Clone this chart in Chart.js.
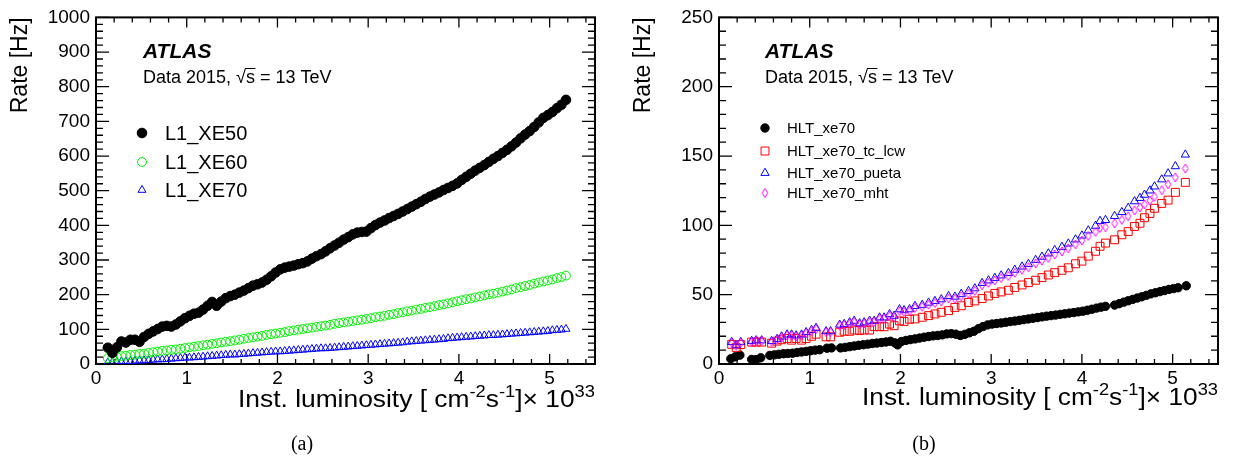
<!DOCTYPE html>
<html><head><meta charset="utf-8">
<script src="https://cdn.jsdelivr.net/npm/chart.js@4.4.1/dist/chart.umd.min.js"></script>
<style>
html,body{margin:0;padding:0;background:#fff;}
#wrap{position:relative;width:1235px;height:460px;overflow:hidden;background:#fff;}
canvas{position:absolute;top:0;}
</style></head><body>
<div id="wrap">
<canvas id="ca" width="617" height="460" style="left:0px"></canvas>
<canvas id="cb" width="618" height="460" style="left:617px"></canvas>
</div>
<script>
// ---------------- DATA (panel a) ----------------
const lumiA = [
0.13,0.18,0.23,0.28,0.33,0.38,0.43,0.48,0.53,0.58,
0.63,0.68,0.73,0.78,0.83,0.88,0.93,0.98,1.03,1.08,
1.13,1.18,1.23,1.28,1.33,1.38,1.43,1.48,1.53,1.58,
1.63,1.68,1.73,1.78,1.83,1.88,1.93,1.98,2.03,2.08,
2.13,2.18,2.23,2.28,2.33,2.38,2.43,2.48,2.53,2.58,
2.63,2.68,2.73,2.78,2.83,2.88,2.93,2.98,3.03,3.08,
3.13,3.18,3.23,3.28,3.33,3.38,3.43,3.48,3.53,3.58,
3.63,3.68,3.73,3.78,3.83,3.88,3.93,3.98,4.03,4.08,
4.13,4.18,4.23,4.28,4.33,4.38,4.43,4.48,4.53,4.58,
4.63,4.68,4.73,4.78,4.83,4.88,4.93,4.98,5.03,5.08,
5.13,5.18];
const rateL1XE50 = [
47,32,48,65,62,70,70,64,78,87,
94,101,108,110,108,114,123,132,139,145,
148,157,168,179,168,180,190,196,200,206,
212,219,226,230,235,243,253,264,273,278,
281,284,288,291,296,304,311,317,325,334,
342,350,359,366,374,379,381,382,392,401,
408,414,421,427,433,440,447,454,461,468,
476,483,489,495,502,508,514,521,531,540,
549,558,566,574,583,592,600,609,618,628,
639,651,662,672,684,697,710,718,727,738,
748,762];
const rateL1XE60 = [
17,19,21,23,24,26,27,29,30,32,
34,36,38,39,41,42,44,46,48,50,
52,54,56,58,60,62,64,66,68,70,
73,75,77,79,81,84,86,88,90,92,
95,97,99,101,103,105,107,109,111,113,
116,118,120,122,124,126,128,130,132,135,
137,139,142,144,147,149,152,154,157,159,
162,164,167,170,172,175,178,181,184,187,
189,192,195,198,201,203,206,209,212,215,
219,222,225,228,232,235,238,241,244,248,
251,255];
const rateL1XE70 = [
4,5,6,7,7,8,9,10,10,11,
12,13,13,14,15,16,17,18,18,19,
20,21,22,23,24,25,26,27,27,28,
29,30,31,32,33,34,35,36,36,37,
38,39,40,41,42,43,44,45,45,46,
47,48,49,50,51,52,53,54,55,56,
57,58,59,60,61,62,64,65,66,67,
68,69,70,71,72,74,75,76,77,78,
79,80,81,82,83,83,84,85,86,87,
88,89,90,91,92,93,94,95,97,98,
99,101];

// ---------------- DATA (panel b) ----------------
const lumiHLT = [
0.13,0.18,0.23,0.36,0.41,0.46,0.56,0.61,0.66,0.71,
0.76,0.81,0.86,0.91,0.96,1.01,1.06,1.11,1.19,1.24,
1.34,1.39,1.44,1.49,1.54,1.59,1.64,1.69,1.74,1.79,
1.84,1.89,1.94,1.97,2.01,2.06,2.11,2.16,2.21,2.26,
2.31,2.36,2.41,2.46,2.51,2.56,2.61,2.66,2.71,2.76,
2.81,2.86,2.91,2.96,3.01,3.06,3.11,3.16,3.21,3.26,
3.31,3.36,3.41,3.46,3.51,3.56,3.61,3.66,3.71,3.76,
3.81,3.86,3.91,3.96,4.01,4.06,4.11,4.16,4.21,4.26,
4.36,4.41,4.46,4.51,4.56,4.61,4.66,4.71,4.76,4.81,
4.86,4.91,4.96,5.01,5.06,5.15];
const rateHLTxe70 = [
3.8,5.2,6.4,3.3,3.2,4.5,6.2,6.6,7.0,7.4,
7.6,7.8,8.3,8.7,9.1,9.6,10.0,10.3,11.4,11.6,
11.6,12.0,12.5,13.0,13.5,13.9,14.3,14.8,15.1,15.5,
15.9,16.4,15.2,13.8,16.2,17.0,17.6,18.1,18.7,19.3,
19.8,20.3,20.6,21.0,21.7,21.9,21.5,20.6,21.4,22.5,
23.6,25.5,27.0,28.2,28.8,29.2,29.6,30.1,30.6,31.0,
31.5,32.0,32.5,33.0,33.5,34.0,34.5,34.9,35.3,35.8,
36.2,36.7,37.1,37.6,38.1,38.8,39.5,40.3,41.0,41.6,
42.5,43.5,44.6,45.6,46.6,47.6,48.5,49.5,50.6,51.4,
52.2,53.0,53.8,54.4,55.0,56.4];
const lumiVar = [
0.14,0.19,0.24,0.36,0.41,0.47,0.58,0.64,0.69,0.75,
0.80,0.85,0.91,0.96,1.02,1.07,1.18,1.23,1.33,1.38,
1.44,1.49,1.55,1.60,1.66,1.71,1.77,1.82,1.88,1.93,
1.99,2.04,2.10,2.16,2.24,2.31,2.38,2.45,2.53,2.60,
2.67,2.75,2.82,2.90,2.97,3.04,3.11,3.19,3.26,3.34,
3.41,3.49,3.56,3.63,3.70,3.78,3.85,3.93,4.00,4.07,
4.15,4.20,4.26,4.36,4.44,4.51,4.58,4.64,4.69,4.75,
4.80,4.88,4.95,5.03,5.14];
const rateTcLcw = [
14.2,11.8,14.0,15.8,15.8,15.8,15.0,16.5,17.5,18.4,
17.2,18.4,17.2,18.4,20.0,21.5,19.6,19.6,22.9,23.6,
23.6,24.5,24.1,24.5,24.5,26.9,26.9,26.9,28.8,27.6,
31.1,30.7,32.3,32.5,33.7,34.9,36.1,37.3,38.5,40.8,
42.0,44.4,45.5,47.2,49.1,50.9,52.0,53.2,55.2,57.0,
58.7,60.4,62.3,64.2,65.9,67.6,69.4,72.3,74.2,77.8,
81.3,84.9,87.2,89.6,93.2,95.5,99.2,101.5,105.5,108.6,
112.3,115.8,118.2,123.8,131.0];
const ratePueta = [
15.8,13.5,15.8,16.5,17.0,17.0,16.5,18.0,19.8,21.2,
21.2,20.5,21.2,22.9,24.5,26.0,23.6,23.6,28.3,28.8,
30.0,31.1,29.3,30.0,31.1,31.1,33.5,33.5,35.9,34.7,
39.4,38.7,39.4,41.8,42.6,44.2,45.4,46.6,48.9,48.5,
50.5,52.5,54.5,58.4,60.2,62.0,63.8,65.5,67.9,70.2,
72.1,75.0,77.3,79.7,82.1,84.4,86.8,89.8,92.6,96.3,
99.6,103.1,103.8,106.7,109.5,112.6,117.3,119.7,122.0,125.1,
128.0,133.1,137.4,142.6,151.0];
const rateMht = [
15.2,13.0,15.4,16.0,16.6,16.6,16.0,17.4,19.2,20.6,
20.5,19.8,20.6,22.2,23.8,25.2,23.0,23.0,27.6,28.0,
29.2,30.3,28.6,29.2,30.2,30.3,32.6,32.6,34.9,33.7,
38.2,37.6,38.3,40.5,41.3,42.8,44.0,45.1,47.3,47.0,
48.9,50.8,52.8,56.8,58.6,60.3,62.0,63.5,65.8,68.0,
69.8,72.5,74.6,76.6,79.0,81.2,83.4,86.3,89.0,92.4,
95.3,98.2,98.6,101.4,104.0,106.6,110.8,113.0,115.1,117.8,
120.6,125.4,129.6,134.6,141.0];

// ---------------- TEXT ----------------
const seriesNamesA = ['L1_XE50','L1_XE60','L1_XE70'];
const seriesNamesB = ['HLT_xe70','HLT_xe70_tc_lcw','HLT_xe70_pueta','HLT_xe70_mht'];
const yTitle = 'Rate [Hz]';
const xTitleParts = [
  {t:'Inst. luminosity [ cm', sup:false},
  {t:'-2', sup:true},
  {t:'s', sup:false},
  {t:'-1', sup:true},
  {t:']\u00d7 10', sup:false},
  {t:'33', sup:true}
];
const atlasLabel = 'ATLAS';
const dataLabelParts = ['Data 2015, ', '\u221a', 's', ' = 13 TeV'];

// ---------------- DRAWING ----------------
const FONT = '"Liberation Sans", Arial, Helvetica, sans-serif';
Chart.defaults.font.family = FONT;
Chart.defaults.color = '#000';

function pts(xs, ys){ return xs.map((x,i)=>({x:x, y:ys[i]})); }

const diamondImg = (function(){
  const c = document.createElement('canvas'); c.width = 8; c.height = 11;
  const g = c.getContext('2d'); g.strokeStyle = '#ff00ff'; g.lineWidth = 1;
  g.beginPath(); g.moveTo(4,1); g.lineTo(6.8,5.5); g.lineTo(4,10); g.lineTo(1.2,5.5); g.closePath(); g.stroke();
  return c;
})();

function drawMarker(ctx, ds, x, y){
  ctx.save();
  ctx.fillStyle = ds.pointBackgroundColor;
  ctx.strokeStyle = ds.pointBorderColor;
  ctx.lineWidth = ds.pointBorderWidth;
  Chart.helpers.drawPoint(ctx, {pointStyle: ds.pointStyle, radius: ds.pointRadius, borderWidth: ds.pointBorderWidth, rotation: 0}, x, y);
  ctx.restore();
}

function rootPlugin(P){
  return {
    id: 'root' + P.key,
    beforeDatasetsDraw(chart){
      const ctx = chart.ctx, a = chart.chartArea, xs = chart.scales.x, ys = chart.scales.y;
      ctx.save();
      ctx.strokeStyle = '#000'; ctx.lineWidth = 1.3;
      ctx.beginPath();
      const nY = Math.round(P.yMax / P.yMinor);
      for (let k = 0; k <= nY; k++){
        const py = ys.getPixelForValue(k * P.yMinor);
        const len = (k % 5 === 0) ? 13 : 7;
        ctx.moveTo(a.left, py); ctx.lineTo(a.left + len, py);
        ctx.moveTo(a.right, py); ctx.lineTo(a.right - len, py);
      }
      for (let k = 0; k <= 27; k++){
        const px = xs.getPixelForValue(k * 0.2);
        const len = (k % 5 === 0) ? 10 : 5;
        ctx.moveTo(px, a.bottom); ctx.lineTo(px, a.bottom - len);
        ctx.moveTo(px, a.top); ctx.lineTo(px, a.top + len);
      }
      ctx.stroke();
      ctx.lineWidth = 2;
      ctx.strokeRect(a.left, a.top, a.right - a.left, a.bottom - a.top);
      ctx.restore();
    },
    afterDraw(chart){
      const ctx = chart.ctx, a = chart.chartArea;
      ctx.save();
      ctx.fillStyle = '#000'; ctx.strokeStyle = '#000';
      ctx.textAlign = 'left'; ctx.textBaseline = 'alphabetic';
      // ATLAS label
      ctx.font = 'italic bold 21px ' + FONT;
      ctx.fillText(atlasLabel, P.atlasX, P.atlasY);
      // Data 2015, sqrt(s) = 13 TeV
      ctx.font = '18px ' + FONT;
      let xx = P.atlasX; const by = P.dataY;
      ctx.fillText(dataLabelParts[0], xx, by); xx += ctx.measureText(dataLabelParts[0]).width;
      ctx.fillText(dataLabelParts[1], xx, by); const wr = ctx.measureText(dataLabelParts[1]).width;
      const ws = ctx.measureText(dataLabelParts[2]).width;
      ctx.fillText(dataLabelParts[2], xx + wr, by);
      ctx.lineWidth = 1;
      ctx.beginPath(); ctx.moveTo(xx + wr - 1, by - 14.5); ctx.lineTo(xx + wr + ws + 0.5, by - 14.5); ctx.stroke();
      xx += wr + ws;
      ctx.fillText(dataLabelParts[3], xx, by);
      // legend
      ctx.font = P.legendFont + 'px ' + FONT;
      ctx.textBaseline = 'middle';
      chart.data.datasets.forEach((ds, i) => {
        drawMarker(ctx, ds, P.legendMarkerX, P.legendRows[i]);
        ctx.fillStyle = '#000';
        ctx.fillText(ds.label, P.legendTextX, P.legendRows[i] + 1);
      });
      // y title
      ctx.save();
      ctx.textBaseline = 'alphabetic'; ctx.textAlign = 'right';
      ctx.font = '23px ' + FONT;
      ctx.translate(P.yTitleX, a.top);
      ctx.rotate(-Math.PI/2);
      ctx.fillText(yTitle, 0, 0);
      ctx.restore();
      // x title with superscripts, fitted to span
      ctx.save();
      ctx.textBaseline = 'alphabetic'; ctx.textAlign = 'left';
      const big = '23px ' + FONT, small = '16px ' + FONT;
      let W = 0;
      xTitleParts.forEach(p => { ctx.font = p.sup ? small : big; W += ctx.measureText(p.t).width; });
      const f = (a.right - P.xTitleStart) / W;
      ctx.translate(P.xTitleStart, P.xTitleY);
      ctx.scale(f, 1);
      let cx = 0;
      xTitleParts.forEach(p => {
        ctx.font = p.sup ? small : big;
        ctx.fillText(p.t, cx, p.sup ? -10 : 0);
        cx += ctx.measureText(p.t).width;
      });
      ctx.restore();
      // caption
      ctx.font = '20px "Liberation Serif", "Times New Roman", serif';
      ctx.textAlign = 'center'; ctx.textBaseline = 'alphabetic';
      ctx.fillText(P.caption, P.captionX, 450);
      ctx.restore();
    }
  };
}

function makeChart(P){
  return new Chart(document.getElementById(P.canvas), {
    type: 'scatter',
    data: { datasets: P.datasets },
    options: {
      responsive: false, animation: false, devicePixelRatio: 1,
      events: [],
      layout: { padding: { left: 0, top: P.top, right: P.padRight, bottom: 0 } },
      plugins: { legend: { display: false }, tooltip: { enabled: false } },
      scales: {
        x: {
          type: 'linear', position: 'bottom', min: 0, max: 5.5,
          grid: { display: false, drawTicks: false }, border: { display: false },
          ticks: { stepSize: 1, includeBounds: false, autoSkip: false, maxRotation: 0,
                   font: { size: 19 }, color: '#000', padding: 3, callback: v => String(v) },
          afterFit(s){ s.height = P.xAxisH; }
        },
        y: {
          type: 'linear', position: 'left', min: 0, max: P.yMax,
          grid: { display: false, drawTicks: false }, border: { display: false },
          ticks: { stepSize: P.yStep, includeBounds: false, autoSkip: false,
                   font: { size: 19 }, color: '#000', padding: 6, callback: v => String(v) },
          afterFit(s){ s.width = P.yAxisW; }
        }
      }
    },
    plugins: [rootPlugin(P)]
  });
}

makeChart({
  key: 'a', canvas: 'ca', top: 11, padRight: 22, yAxisW: 96, xAxisH: 96,
  yMax: 1000, yStep: 100, yMinor: 20,
  atlasX: 143, atlasY: 58, dataY: 83,
  legendMarkerX: 142, legendTextX: 165, legendRows: [133, 162, 190], legendFont: 20,
  yTitleX: 27, xTitleStart: 238, xTitleY: 407, caption: '(a)', captionX: 302,
  datasets: [
    { label: seriesNamesA[0], data: pts(lumiA, rateL1XE50), pointStyle: 'circle', pointRadius: 4.8,
      pointBackgroundColor: '#000000', pointBorderColor: '#000000', pointBorderWidth: 1 },
    { label: seriesNamesA[1], data: pts(lumiA, rateL1XE60), pointStyle: 'circle', pointRadius: 4.4,
      pointBackgroundColor: 'rgba(0,0,0,0)', pointBorderColor: '#00f000', pointBorderWidth: 1 },
    { label: seriesNamesA[2], data: pts(lumiA, rateL1XE70), pointStyle: 'triangle', pointRadius: 4.6,
      pointBackgroundColor: 'rgba(0,0,0,0)', pointBorderColor: '#0000ff', pointBorderWidth: 1 }
  ]
});

makeChart({
  key: 'b', canvas: 'cb', top: 11, padRight: 17, yAxisW: 102, xAxisH: 96,
  yMax: 250, yStep: 50, yMinor: 10,
  atlasX: 148, atlasY: 58, dataY: 83,
  legendMarkerX: 148, legendTextX: 170, legendRows: [128, 151, 173, 193], legendFont: 15,
  yTitleX: 33, xTitleStart: 245, xTitleY: 405, caption: '(b)', captionX: 307,
  datasets: [
    { label: seriesNamesB[0], data: pts(lumiHLT, rateHLTxe70), order: 4, pointStyle: 'circle', pointRadius: 4.2,
      pointBackgroundColor: '#000000', pointBorderColor: '#000000', pointBorderWidth: 1 },
    { label: seriesNamesB[1], data: pts(lumiVar, rateTcLcw), order: 3, pointStyle: 'rect', pointRadius: 5.6,
      pointBackgroundColor: 'rgba(0,0,0,0)', pointBorderColor: '#ff0000', pointBorderWidth: 1 },
    { label: seriesNamesB[2], data: pts(lumiVar, ratePueta), order: 2, pointStyle: 'triangle', pointRadius: 4.8,
      pointBackgroundColor: 'rgba(0,0,0,0)', pointBorderColor: '#0000ff', pointBorderWidth: 1 },
    { label: seriesNamesB[3], data: pts(lumiVar, rateMht), order: 1, pointStyle: diamondImg, pointRadius: 4,
      pointBackgroundColor: 'rgba(0,0,0,0)', pointBorderColor: '#ff00ff', pointBorderWidth: 1 }
  ]
});
</script>
</body></html>
